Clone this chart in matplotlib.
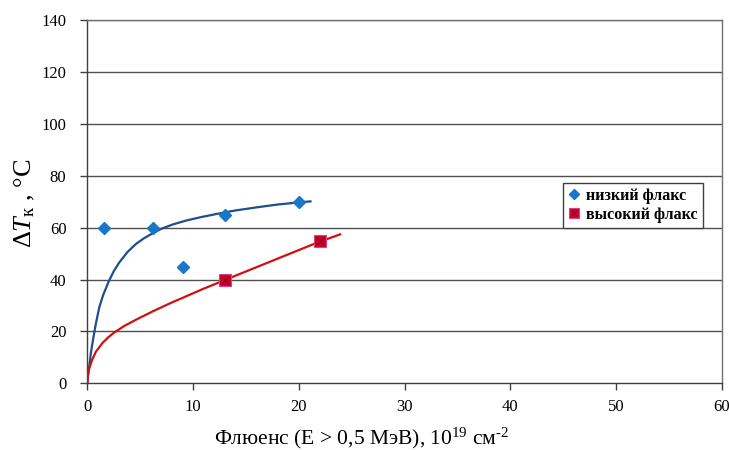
import matplotlib
matplotlib.use("Agg")
import matplotlib.pyplot as plt
from matplotlib.lines import Line2D

plt.rcParams['font.family'] = ['Liberation Serif', 'DejaVu Serif']
plt.rcParams['mathtext.fontset'] = 'custom'
plt.rcParams['mathtext.rm'] = 'Liberation Serif'
plt.rcParams['mathtext.it'] = 'Liberation Serif:italic'

# data
low_x = [1.6, 6.2, 9.0, 13.0, 20.0]
low_y = [60, 60, 45, 65, 70]
high_x = [13.0, 22.0]
high_y = [40, 55]

# trend lines
low_trend_x = [0, 0.05, 0.1, 0.2, 0.35, 0.57, 0.8, 1.14, 1.5, 2.02, 2.5, 3.03, 3.8, 4.6, 5.4,
               6.18, 6.97, 8.07, 9.33, 10.7, 12.16, 14.0, 16.0, 18.0, 20.0, 21.1]
low_trend_y = [0, 2.2, 4.0, 7.0, 12.0, 17.5, 22.8, 29.4, 34.0, 39.2, 43.2, 46.6, 50.6, 53.7, 56.0,
               57.8, 59.5, 61.2, 62.7, 64.0, 65.2, 66.6, 67.8, 68.9, 69.7, 70.1]
high_trend_x = [0, 0.05, 0.2, 0.45, 0.82, 1.45, 2.0, 2.55, 3.5, 4.6, 6.18, 7.75, 9.33, 10.9,
                12.48, 13.0, 15.0, 17.0, 19.0, 21.0, 22.0, 23.9]
high_trend_y = [0, 3.0, 6.0, 9.0, 12.2, 15.6, 17.8, 19.6, 22.1, 24.5, 27.7, 30.7, 33.5, 36.3,
                38.9, 39.8, 43.1, 46.4, 49.7, 53.0, 54.6, 57.4]

x_ticks = [0, 10, 20, 30, 40, 50, 60]
y_ticks = [0, 20, 40, 60, 80, 100, 120, 140]
x_label = r'Флюенс (Е > 0,5 МэВ), 10$^{19}$ см$^{\text{-2}}$'
y_label = r'$\Delta T_{\mathrm{к}}$ , °C'
legend_labels = ['низкий флакс', 'высокий флакс']

fig = plt.figure(figsize=(7.29, 4.5), dpi=100)
ax = fig.add_axes([87.3/729, 1-383.3/450, (722-87.3)/729, (383.3-20)/450])

grid_c = '#505050'
for yv in y_ticks[1:]:
    ax.axhline(yv, color=grid_c if yv != 140 else '#707070', lw=1.0, zorder=1)

ax.plot(low_trend_x, low_trend_y, color='#1f4e8c', lw=1.6, zorder=3, solid_joinstyle='round')
ax.plot(high_trend_x, high_trend_y, color='#d01010', lw=1.6, zorder=3, solid_joinstyle='round')

ax.plot(low_x, low_y, linestyle='none', marker='D', ms=6.5, color='#1976c8', zorder=4)
ax.plot(high_x, high_y, linestyle='none', marker='s', ms=8, mfc='#c8002e', mec='#e04080', mew=0.8, zorder=4)
ax.plot(high_x, high_y, linestyle='none', marker='x', ms=6, mec='#8a0020', mew=0.8, zorder=5)

ax.set_xlim(0, 60)
ax.set_ylim(0, 140)
ax.set_xticks(x_ticks)
ax.set_yticks(y_ticks)
ax.tick_params(axis='both', direction='out', length=5, width=1, color='#404040', labelsize=12)
ax.tick_params(axis='y', pad=10)
ax.tick_params(axis='x', pad=6)

for s in ['left', 'bottom']:
    ax.spines[s].set_color('#404040')
    ax.spines[s].set_linewidth(1.0)
for s in ['right', 'top']:
    ax.spines[s].set_color('#707070')
    ax.spines[s].set_linewidth(1.0)

fig.text(362/729, 1-438/450, x_label, fontsize=15.5, ha='center', va='center')
fig.text(25/729, 1-203/450, y_label, fontsize=19, ha='center', va='center', rotation=90)

h_low = Line2D([], [], linestyle='none', marker='D', ms=5, color='#1976c8')
h_sq = Line2D([], [], linestyle='none', marker='s', ms=7, mfc='#c8002e', mec='#e04080', mew=0.8)
h_x = Line2D([], [], linestyle='none', marker='x', ms=5, mec='#8a0020', mew=0.8)
leg = ax.legend([h_low, (h_sq, h_x)], legend_labels, loc='upper left',
                bbox_to_anchor=((563-87.3)/634.7, (383.3-183)/363.3),
                prop={'family': 'Liberation Serif', 'weight': 'bold', 'size': 11.5},
                frameon=True, fancybox=False, edgecolor='#404040', framealpha=1,
                handlelength=0.8, handletextpad=0.35, borderpad=0.3, labelspacing=0.2,
                borderaxespad=0)
leg.get_frame().set_linewidth(1.0)

fig.savefig('out.png', dpi=100)
